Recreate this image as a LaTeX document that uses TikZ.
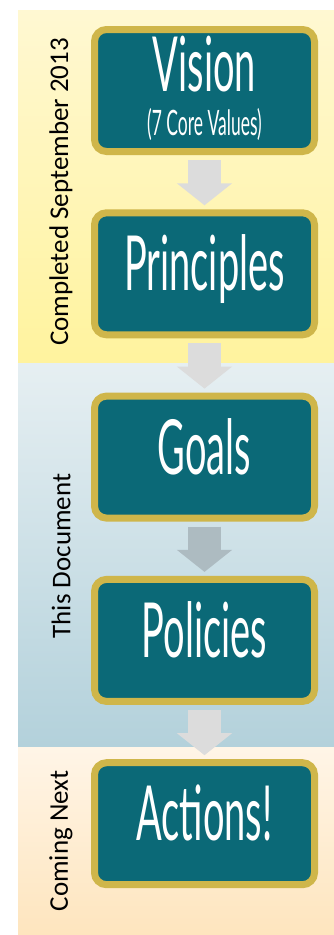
\documentclass[tikz,border=0pt]{standalone}
\usepackage{fontspec}
\usetikzlibrary{arrows.meta}
\newfontfamily\boxfont[FakeStretch=0.5]{Lato}
\newfontfamily\sidefont{Carlito}
\definecolor{boxteal}{HTML}{0B6977}
\definecolor{boxgold}{HTML}{CFB64A}
\definecolor{arrowgray}{HTML}{DCDCDC}
\definecolor{arrowblue}{HTML}{ADBBC1}
\tikzstyle{stage}=[rectangle,rounded corners=12pt,minimum width=220pt,minimum height=122pt,line width=7pt,draw=boxgold,fill=boxteal,text=white,text centered,text height=56pt,text depth=22pt,font=\boxfont\fontsize{76}{80}\selectfont]
\tikzstyle{bandlabel}=[rotate=90,font=\sidefont\fontsize{27}{30}\selectfont]
\tikzstyle{arrow}=[line width=33pt,draw=arrowgray,-{Triangle[width=54pt,length=22pt]},shorten <=5pt,shorten >=4pt]

\begin{document}
\begin{tikzpicture}[x=1pt,y=-1pt,node distance=183.3pt]
            \useasboundingbox (0,0) rectangle (334,935);
            % background bands
            \shade[top color={rgb,255:red,255;green,248;blue,210},bottom color={rgb,255:red,255;green,243;blue,158}] (18,10) rectangle (334,363);
            \shade[top color={rgb,255:red,230;green,239;blue,242},bottom color={rgb,255:red,179;green,209;blue,219}] (18,363) rectangle (334,747);
            \shade[top color={rgb,255:red,255;green,245;blue,231},bottom color={rgb,255:red,254;green,229;blue,190}] (18,747) rectangle (334,935);
            \node (completed)[bandlabel] at (61,192){Completed September 2013};
            \node (thisdoc)[bandlabel] at (61,556){This Document};
            \node (comingnext)[bandlabel] at (61,841){Coming Next};
            % stages
            \node (vision)[stage,text height={},text depth={},align=center] at (204.5,90.5){Vision\\[-36pt]{\fontsize{35}{38}\selectfont (7 Core Values)\rule[-10pt]{0pt}{0pt}}};
            \node (principles)[stage,below of=vision]{Principles};
            \node (goals)[stage,below of=principles]{Goals};
            \node (policies)[stage,below of=goals]{Policies};
            \node (actions)[stage,below of=policies]{Actions!};
            \draw [arrow] (vision) -- (principles);
            \draw [arrow] (principles) -- (goals);
            \draw [arrow,draw=arrowblue] (goals) -- (policies);
            \draw [arrow] (policies) -- (actions);
        \end{tikzpicture}
\end{document}
